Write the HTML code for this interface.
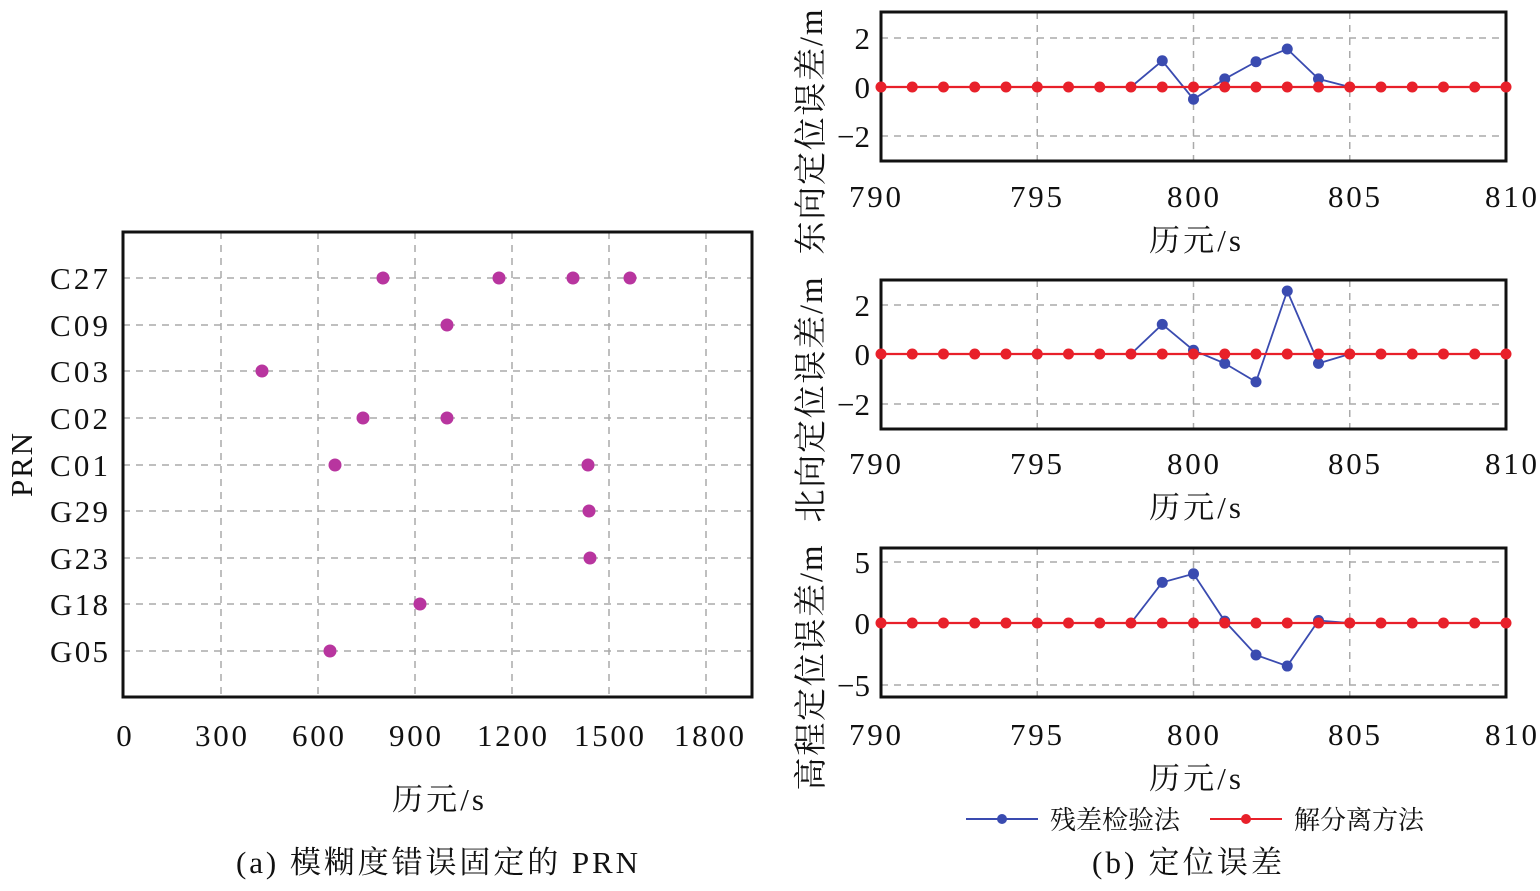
<!DOCTYPE html>
<html><head><meta charset="utf-8"><style>
body{margin:0;background:#fff}
svg text{font-family:"Liberation Serif","Noto Serif CJK SC",serif;fill:#111}
</style></head><body>
<svg id="s" width="1540" height="886" xmlns="http://www.w3.org/2000/svg">
<g id="grid" stroke="#aaa" stroke-width="1.5" stroke-dasharray="7,6" fill="none"></g>
<g id="plot"></g>
<g font-size="31">
<!-- left -->
<g text-anchor="middle">
<text x="124" y="746">0</text>
<text x="221" y="746" textLength="52">300</text>
<text x="318" y="746" textLength="52">600</text>
<text x="415" y="746" textLength="52">900</text>
<text x="512" y="746" textLength="70">1200</text>
<text x="609" y="746" textLength="70">1500</text>
<text x="709" y="746" textLength="70">1800</text>
</g>
<g text-anchor="end">
<text x="108" y="289" textLength="58">C27</text><text x="108" y="336" textLength="58">C09</text><text x="108" y="382" textLength="58">C03</text>
<text x="108" y="429" textLength="58">C02</text><text x="108" y="476" textLength="58">C01</text><text x="108" y="522" textLength="58">G29</text>
<text x="108" y="569" textLength="58">G23</text><text x="108" y="615" textLength="58">G18</text><text x="108" y="662" textLength="58">G05</text>
</g>
<text x="32" y="465" text-anchor="middle" transform="rotate(-90 32 465)" textLength="64">PRN</text>
<text x="438" y="810" text-anchor="middle" textLength="92">历元/s</text>
<text x="437" y="873" text-anchor="middle" textLength="402">(a) 模糊度错误固定的 PRN</text>
<!-- right -->
<g text-anchor="end">
<text x="870" y="49">2</text><text x="870" y="98">0</text><text x="870" y="147">−2</text>
<text x="870" y="316">2</text><text x="870" y="365">0</text><text x="870" y="415">−2</text>
<text x="870" y="573">5</text><text x="870" y="634">0</text><text x="870" y="696">−5</text>
</g>
<g text-anchor="middle">
<text x="875" y="207" textLength="52">790</text><text x="1036" y="207" textLength="52">795</text><text x="1193" y="207" textLength="52">800</text><text x="1354" y="207" textLength="52">805</text><text x="1511" y="207" textLength="52">810</text>
<text x="875" y="474" textLength="52">790</text><text x="1036" y="474" textLength="52">795</text><text x="1193" y="474" textLength="52">800</text><text x="1354" y="474" textLength="52">805</text><text x="1511" y="474" textLength="52">810</text>
<text x="875" y="745" textLength="52">790</text><text x="1036" y="745" textLength="52">795</text><text x="1193" y="745" textLength="52">800</text><text x="1354" y="745" textLength="52">805</text><text x="1511" y="745" textLength="52">810</text>
<text x="1195" y="251" textLength="92">历元/s</text>
<text x="1195" y="518" textLength="92">历元/s</text>
<text x="1195" y="789" textLength="92">历元/s</text>
<text x="1187" y="873" textLength="190">(b) 定位误差</text>
</g>
<g font-size="33" text-anchor="middle">
<text x="822" y="132" transform="rotate(-90 822 132)" textLength="245">东向定位误差/m</text>
<text x="822" y="400" transform="rotate(-90 822 400)" textLength="245">北向定位误差/m</text>
<text x="822" y="668" transform="rotate(-90 822 668)" textLength="245">高程定位误差/m</text>
</g>
</g>
<g font-size="26">
<line x1="966" y1="819" x2="1038" y2="819" stroke="#3a4bb0" stroke-width="2"/><circle cx="1002" cy="819" r="5" fill="#3a4bb0"/>
<text x="1050" y="829" textLength="130">残差检验法</text>
<line x1="1210" y1="819" x2="1282" y2="819" stroke="#e8202a" stroke-width="2"/><circle cx="1246" cy="819" r="5" fill="#e8202a"/>
<text x="1294" y="829" textLength="130">解分离方法</text>
</g>
</svg>
<script>
const NS="http://www.w3.org/2000/svg",G=document.getElementById('grid'),P=document.getElementById('plot');
function el(p,t,a){const e=document.createElementNS(NS,t);for(const k in a)e.setAttribute(k,a[k]);p.appendChild(e);return e;}
[221,318,415,512,609,706].forEach(x=>el(G,'line',{x1:x,y1:232,x2:x,y2:697}));
const rows=[278,325,371,418,465,511,558,604,651];
rows.forEach(y=>el(G,'line',{x1:123,y1:y,x2:752,y2:y}));
el(P,'rect',{x:123,y:232,width:629,height:465,fill:'none',stroke:'#111','stroke-width':3});
const pts=[[383,278],[499,278],[573,278],[630,278],[447,325],[262,371],[363,418],[447,418],[335,465],[588,465],[589,511],[590,558],[420,604],[330,651]];
pts.forEach(p=>el(P,'circle',{cx:p[0],cy:p[1],r:6.5,fill:'#b8359f'}));
const X=t=>881+(t-790)*31.25;
const panels=[
 {t:12,b:161,ticks:[38,87,136],z:87,s:24.5,d:[[798,0],[799,1.07],[800,-0.5],[801,0.33],[802,1.03],[803,1.55],[804,0.33],[805,0]]},
 {t:280,b:429,ticks:[305,354,404],z:354,s:24.7,d:[[798,0],[799,1.2],[800,0.15],[801,-0.38],[802,-1.13],[803,2.55],[804,-0.38],[805,0]]},
 {t:548,b:697,ticks:[562,623,685],z:623,s:12.3,d:[[798,0],[799,3.3],[800,4.0],[801,0.15],[802,-2.6],[803,-3.5],[804,0.2],[805,0]]}];
panels.forEach(p=>{
 [795,800,805].forEach(t=>el(G,'line',{x1:X(t),y1:p.t,x2:X(t),y2:p.b}));
 p.ticks.forEach(y=>el(G,'line',{x1:881,y1:y,x2:1506,y2:y}));
 el(P,'rect',{x:881,y:p.t,width:625,height:p.b-p.t,fill:'none',stroke:'#111','stroke-width':3});
 el(P,'polyline',{points:p.d.map(d=>X(d[0])+','+(p.z-d[1]*p.s)).join(' '),fill:'none',stroke:'#3a4bb0','stroke-width':1.8});
 p.d.slice(1,7).forEach(d=>el(P,'circle',{cx:X(d[0]),cy:p.z-d[1]*p.s,r:5.5,fill:'#3a4bb0'}));
 el(P,'line',{x1:881,y1:p.z,x2:1506,y2:p.z,stroke:'#e8202a','stroke-width':2.2});
 for(let t=790;t<=810;t++)el(P,'circle',{cx:X(t),cy:p.z,r:5.5,fill:'#e8202a'});
});
</script>
</body></html>
